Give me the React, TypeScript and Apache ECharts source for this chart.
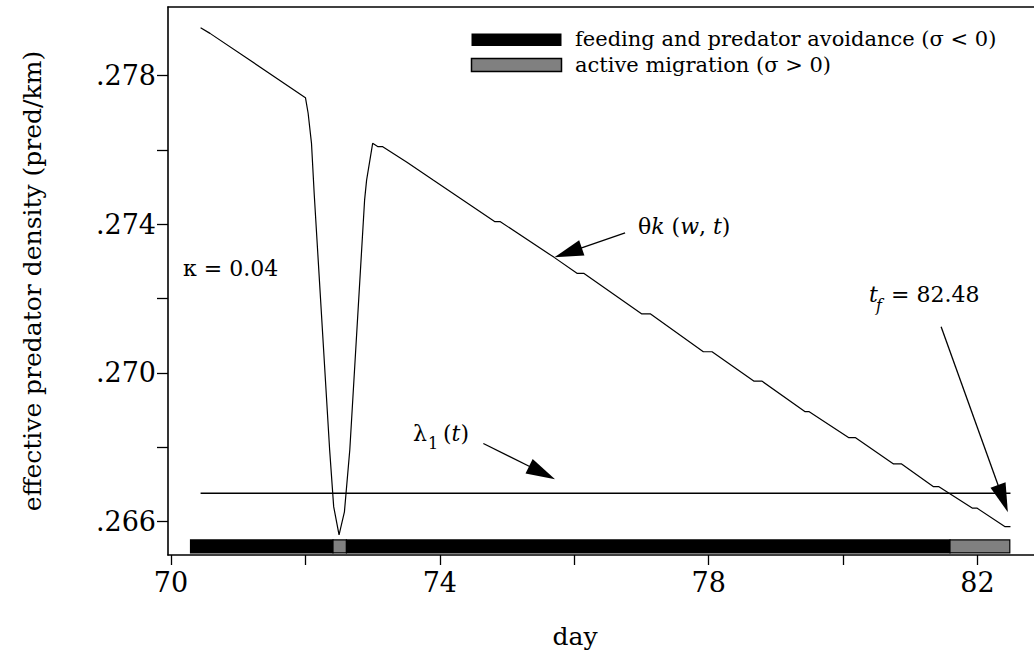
import React, { useEffect, useRef } from "react";
import * as echarts from "echarts";

// θk(w, t): effective predator density along the optimal path
const curveDays = [
  70.44, 70.58, 72.0, 72.04, 72.09, 72.13, 72.36, 72.42, 72.5, 72.58, 72.66,
  72.88, 72.91, 73.0, 73.08, 73.15, 73.51, 73.9, 74.82, 74.9, 75.7, 76.04,
  76.14, 77.0, 77.13, 77.92, 78.05, 78.67, 78.79, 79.43, 79.49, 80.08, 80.18,
  80.75, 80.87, 81.34, 81.42, 81.92, 81.99, 82.41, 82.49,
];
const curveValues = [
  0.27929, 0.27914, 0.27741, 0.27699, 0.27618, 0.27483, 0.26793, 0.2664,
  0.26564, 0.26626, 0.26793, 0.27465, 0.27519, 0.27618, 0.27609, 0.27609,
  0.27567, 0.27519, 0.27407, 0.27407, 0.27311, 0.27268, 0.27268, 0.27159,
  0.27159, 0.27057, 0.27057, 0.26978, 0.26978, 0.26896, 0.26896, 0.26826,
  0.26826, 0.26755, 0.26755, 0.26694, 0.26694, 0.26636, 0.26636, 0.26586,
  0.26586,
];

// λ1(t)
const lambdaDays = [70.44, 82.49];
const lambdaValues = [0.26676, 0.26676];

// behaviour phases shown as a band along the bottom
const phaseStart = [70.29, 72.41, 72.61, 81.59];
const phaseEnd = [72.41, 72.61, 81.59, 82.48];
const phaseKind = [0, 1, 0, 1]; // 0 = feeding and predator avoidance, 1 = active migration
const phaseBandLevel = 0.26533;

// annotation arrows: [fromDay, fromValue, toDay, toValue]
const arrowFrom = [
  [76.756, 0.27377],
  [74.647, 0.2681],
  [81.458, 0.27124],
];
const arrowTo = [
  [75.704, 0.27311],
  [75.714, 0.26714],
  [82.451, 0.26625],
];

const xTickValues = [70, 72, 74, 76, 78, 80, 82];
const xLabelValues = [70, 74, 78, 82];
const yTickValues = [0.266, 0.268, 0.27, 0.272, 0.274, 0.276, 0.278];
const yLabelValues = [0.266, 0.27, 0.274, 0.278];

const X_MIN = 69.955;
const X_MAX = 82.84;
const Y_MIN = 0.265098;
const Y_MAX = 0.27985;

const SERIF = "DejaVu Serif";
const AXIS_FONT = 27;
const NAME_FONT = 25;
const NOTE_FONT = 22;
const LEGEND_FONT = 21;
const SUB_FONT = 16;

function buildOption() {
  const axisLineStyle = { color: "#000", width: 1.6 };

  const phaseData = phaseStart.map((s, i) => [s, phaseEnd[i], phaseBandLevel, phaseKind[i]]);
  const arrowData = arrowFrom.map((f, i) => [f[0], f[1], arrowTo[i][0], arrowTo[i][1]]);

  const noteText = (x: number, y: number, text: string, extra: any = {}) => {
    const style: any = {
      text,
      fontFamily: SERIF,
      fontSize: extra.size || NOTE_FONT,
      fill: "#000",
      textVerticalAlign: "middle",
      textAlign: extra.align || "left",
    };
    if (extra.italic) style.fontStyle = "italic";
    return { type: "text", x, y, style, silent: true };
  };

  const richStyles = {
    n: { fontFamily: SERIF, fontSize: NOTE_FONT, fill: "#000" },
    i: { fontFamily: SERIF, fontSize: NOTE_FONT, fontStyle: "italic", fill: "#000" },
  };

  return {
    animation: false,
    backgroundColor: "#fff",
    grid: { left: 168, right: 0, top: 7, bottom: 104, containLabel: false },
    xAxis: [
      {
        type: "value",
        min: X_MIN,
        max: X_MAX,
        position: "bottom",
        axisLine: { show: true, onZero: false, lineStyle: axisLineStyle },
        axisTick: {
          show: true,
          customValues: xTickValues,
          length: 10,
          lineStyle: { color: "#000", width: 1.3 },
        },
        axisLabel: {
          show: true,
          customValues: xLabelValues,
          fontSize: AXIS_FONT,
          fontFamily: SERIF,
          color: "#000",
          margin: 14,
        },
        splitLine: { show: false },
      },
      {
        type: "value",
        min: X_MIN,
        max: X_MAX,
        position: "top",
        axisLine: { show: true, onZero: false, lineStyle: axisLineStyle },
        axisTick: { show: false },
        axisLabel: { show: false },
        splitLine: { show: false },
      },
    ],
    yAxis: {
      type: "value",
      min: Y_MIN,
      max: Y_MAX,
      axisLine: { show: true, onZero: false, lineStyle: axisLineStyle },
      axisTick: {
        show: true,
        customValues: yTickValues,
        length: 11,
        lineStyle: { color: "#000", width: 1.3 },
      },
      axisLabel: {
        show: true,
        customValues: yLabelValues,
        formatter: (v: number) => v.toFixed(3).replace(/^0/, ""),
        fontSize: AXIS_FONT,
        fontFamily: SERIF,
        color: "#000",
        margin: 12,
      },
      splitLine: { show: false },
    },
    series: [
      {
        name: "theta k",
        type: "line",
        data: curveDays.map((d, i) => [d, curveValues[i]]),
        showSymbol: false,
        symbol: "none",
        lineStyle: { color: "#000", width: 1.2 },
        silent: true,
      },
      {
        name: "lambda1",
        type: "line",
        data: lambdaDays.map((d, i) => [d, lambdaValues[i]]),
        showSymbol: false,
        symbol: "none",
        lineStyle: { color: "#000", width: 1.3 },
        silent: true,
      },
      {
        name: "phases",
        type: "custom",
        clip: false,
        silent: true,
        encode: { x: [0, 1], y: 2 },
        data: phaseData,
        renderItem: (_params: any, api: any) => {
          const a = api.coord([api.value(0), api.value(2)]);
          const b = api.coord([api.value(1), api.value(2)]);
          const migrating = api.value(3) === 1;
          return {
            type: "rect",
            shape: { x: a[0], y: a[1] - 6.5, width: b[0] - a[0], height: 13 },
            style: {
              fill: migrating ? "#808080" : "#000",
              stroke: "#000",
              lineWidth: 1.2,
            },
          };
        },
      },
      {
        name: "arrows",
        type: "custom",
        clip: false,
        silent: true,
        encode: { x: [0, 2], y: [1, 3] },
        data: arrowData,
        renderItem: (_params: any, api: any) => {
          const p = api.coord([api.value(0), api.value(1)]);
          const t = api.coord([api.value(2), api.value(3)]);
          const dx = t[0] - p[0];
          const dy = t[1] - p[1];
          const len = Math.sqrt(dx * dx + dy * dy);
          const ux = dx / len;
          const uy = dy / len;
          const headLen = 29;
          const halfW = 8;
          const bx = t[0] - ux * headLen;
          const by = t[1] - uy * headLen;
          return {
            type: "group",
            children: [
              {
                type: "line",
                shape: { x1: p[0], y1: p[1], x2: bx + ux * 4, y2: by + uy * 4 },
                style: { stroke: "#000", lineWidth: 1.3 },
              },
              {
                type: "polygon",
                shape: {
                  points: [
                    [t[0], t[1]],
                    [bx - uy * halfW, by + ux * halfW],
                    [bx + uy * halfW, by - ux * halfW],
                  ],
                },
                style: { fill: "#000" },
              },
            ],
          };
        },
      },
    ],
    graphic: [
      // legend
      { type: "rect", shape: { x: 471.5, y: 33.5, width: 90, height: 12.5 }, style: { fill: "#000" }, silent: true },
      {
        type: "rect",
        shape: { x: 471.5, y: 58.5, width: 90, height: 13 },
        style: { fill: "#808080", stroke: "#000", lineWidth: 1.5 },
        silent: true,
      },
      noteText(575, 39, "feeding and predator avoidance (σ < 0)", { size: LEGEND_FONT }),
      noteText(575, 65, "active migration (σ > 0)", { size: LEGEND_FONT }),
      // parameter
      noteText(183, 268, "κ = 0.04"),
      // θk(w, t)
      {
        type: "text",
        x: 638,
        y: 226,
        style: {
          text: "{n|θ}{i|k}{n| (}{i|w}{n|, }{i|t}{n|)}",
          fill: "#000",
          textVerticalAlign: "middle",
          rich: richStyles,
        },
        silent: true,
      },
      // λ1(t)
      noteText(413, 433, "λ"),
      noteText(428, 443, "1", { size: SUB_FONT }),
      {
        type: "text",
        x: 443,
        y: 433,
        style: {
          text: "{n|(}{i|t}{n|)}",
          fill: "#000",
          textVerticalAlign: "middle",
          rich: richStyles,
        },
        silent: true,
      },
      // t_f = 82.48
      noteText(869, 294, "t", { italic: true }),
      noteText(876, 305, "f", { italic: true, size: SUB_FONT }),
      noteText(891, 294, "= 82.48"),
      // axis titles
      noteText(575, 636, "day", { size: NAME_FONT, align: "center" }),
      {
        type: "text",
        x: 32,
        y: 281,
        rotation: Math.PI / 2,
        style: {
          text: "effective predator density (pred/km)",
          fontFamily: SERIF,
          fontSize: NAME_FONT,
          fill: "#000",
          textAlign: "center",
          textVerticalAlign: "middle",
        },
        silent: true,
      },
    ],
  };
}

export default function App() {
  const ref = useRef<HTMLDivElement>(null);

  useEffect(() => {
    if (!ref.current) return;
    const chart = echarts.init(ref.current, undefined, { renderer: "svg" });
    chart.setOption(buildOption() as any);
    return () => {
      chart.dispose();
    };
  }, []);

  return (
    <div
      ref={ref}
      style={{ width: 1034, height: 659, position: "absolute", left: 0, top: 0, background: "#fff" }}
    />
  );
}
